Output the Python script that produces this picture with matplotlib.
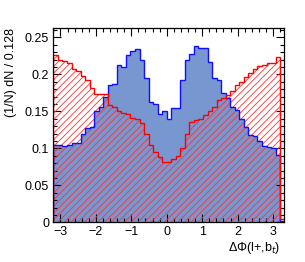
import numpy as np
import matplotlib
matplotlib.use("Agg")
import matplotlib.pyplot as plt
from matplotlib.ticker import MultipleLocator

plt.rcParams['font.family'] = ['Liberation Sans', 'DejaVu Sans']
plt.rcParams['hatch.linewidth'] = 0.6

# 51 bins of width 0.128 starting at -3.2 (last one spills past the frame)
bin_width = 0.128
x_start = -3.2

red_vals = [0.226, 0.219, 0.218, 0.216, 0.207, 0.205, 0.198, 0.192, 0.182, 0.174,
            0.173, 0.173, 0.158, 0.156, 0.150, 0.148, 0.147, 0.141, 0.140, 0.134,
            0.120, 0.105, 0.095, 0.088, 0.081, 0.081, 0.085, 0.090, 0.100, 0.120,
            0.135, 0.138, 0.140, 0.145, 0.150, 0.156, 0.165, 0.168, 0.172, 0.178,
            0.185, 0.190, 0.196, 0.202, 0.207, 0.211, 0.213, 0.215, 0.215, 0.223,
            0.004]

blue_vals = [0.105, 0.104, 0.103, 0.104, 0.107, 0.107, 0.119, 0.127, 0.129, 0.150,
             0.156, 0.170, 0.186, 0.187, 0.212, 0.210, 0.226, 0.232, 0.234, 0.220,
             0.195, 0.163, 0.160, 0.146, 0.151, 0.140, 0.154, 0.154, 0.193, 0.219,
             0.228, 0.239, 0.236, 0.236, 0.217, 0.195, 0.192, 0.175, 0.168, 0.156,
             0.152, 0.140, 0.129, 0.118, 0.117, 0.110, 0.103, 0.102, 0.100, 0.091,
             0.002]

edges = x_start + bin_width * np.arange(len(red_vals) + 1)

fig = plt.figure(figsize=(3.05, 2.62), dpi=100)
ax = fig.add_axes([0.175, 0.1515, 0.755, 0.7425])

# filled blue histogram
ax.stairs(blue_vals, edges, fill=True, facecolor='#7896cf', edgecolor='none', lw=0, zorder=1)
# red hatched histogram on top
ax.stairs(red_vals, edges, fill=True, facecolor='none', edgecolor='#ff3030', hatch='/////',
          lw=0, zorder=2)
# outlines
ax.stairs(blue_vals, edges, baseline=0, fill=False, color='#1010ff', lw=1.0, zorder=3)
ax.stairs(red_vals, edges, baseline=0, fill=False, color='#ff0000', lw=1.0, zorder=4)

ax.set_xlim(-3.2, 3.3)
ax.set_ylim(0, 0.263)

ax.xaxis.set_major_locator(MultipleLocator(1))
ax.xaxis.set_minor_locator(MultipleLocator(0.2))
ax.yaxis.set_major_locator(MultipleLocator(0.05))
ax.yaxis.set_minor_locator(MultipleLocator(0.01))
ax.tick_params(which='both', direction='in', top=True, right=True, labelsize=9, pad=3)
ax.tick_params(which='major', length=6, width=0.8)
ax.tick_params(which='minor', length=3, width=0.8)
ax.yaxis.set_major_formatter(plt.FuncFormatter(lambda v, p: '0' if v == 0 else f'{v:g}'))
ax.xaxis.set_major_formatter(plt.FuncFormatter(lambda v, p: f'{v:g}'.replace('-', '\u2212')))
for s in ax.spines.values():
    s.set_linewidth(0.9)
    s.set_zorder(5)

fig.text(0.918, 0.055, '\u0394\u03a6(l+,b$_t$)', ha='right', va='center', fontsize=9)
fig.text(0.036, 0.894, '(1/N) dN / 0.128', rotation=90, ha='center', va='top', fontsize=9)

fig.savefig('out.png', dpi=100)
